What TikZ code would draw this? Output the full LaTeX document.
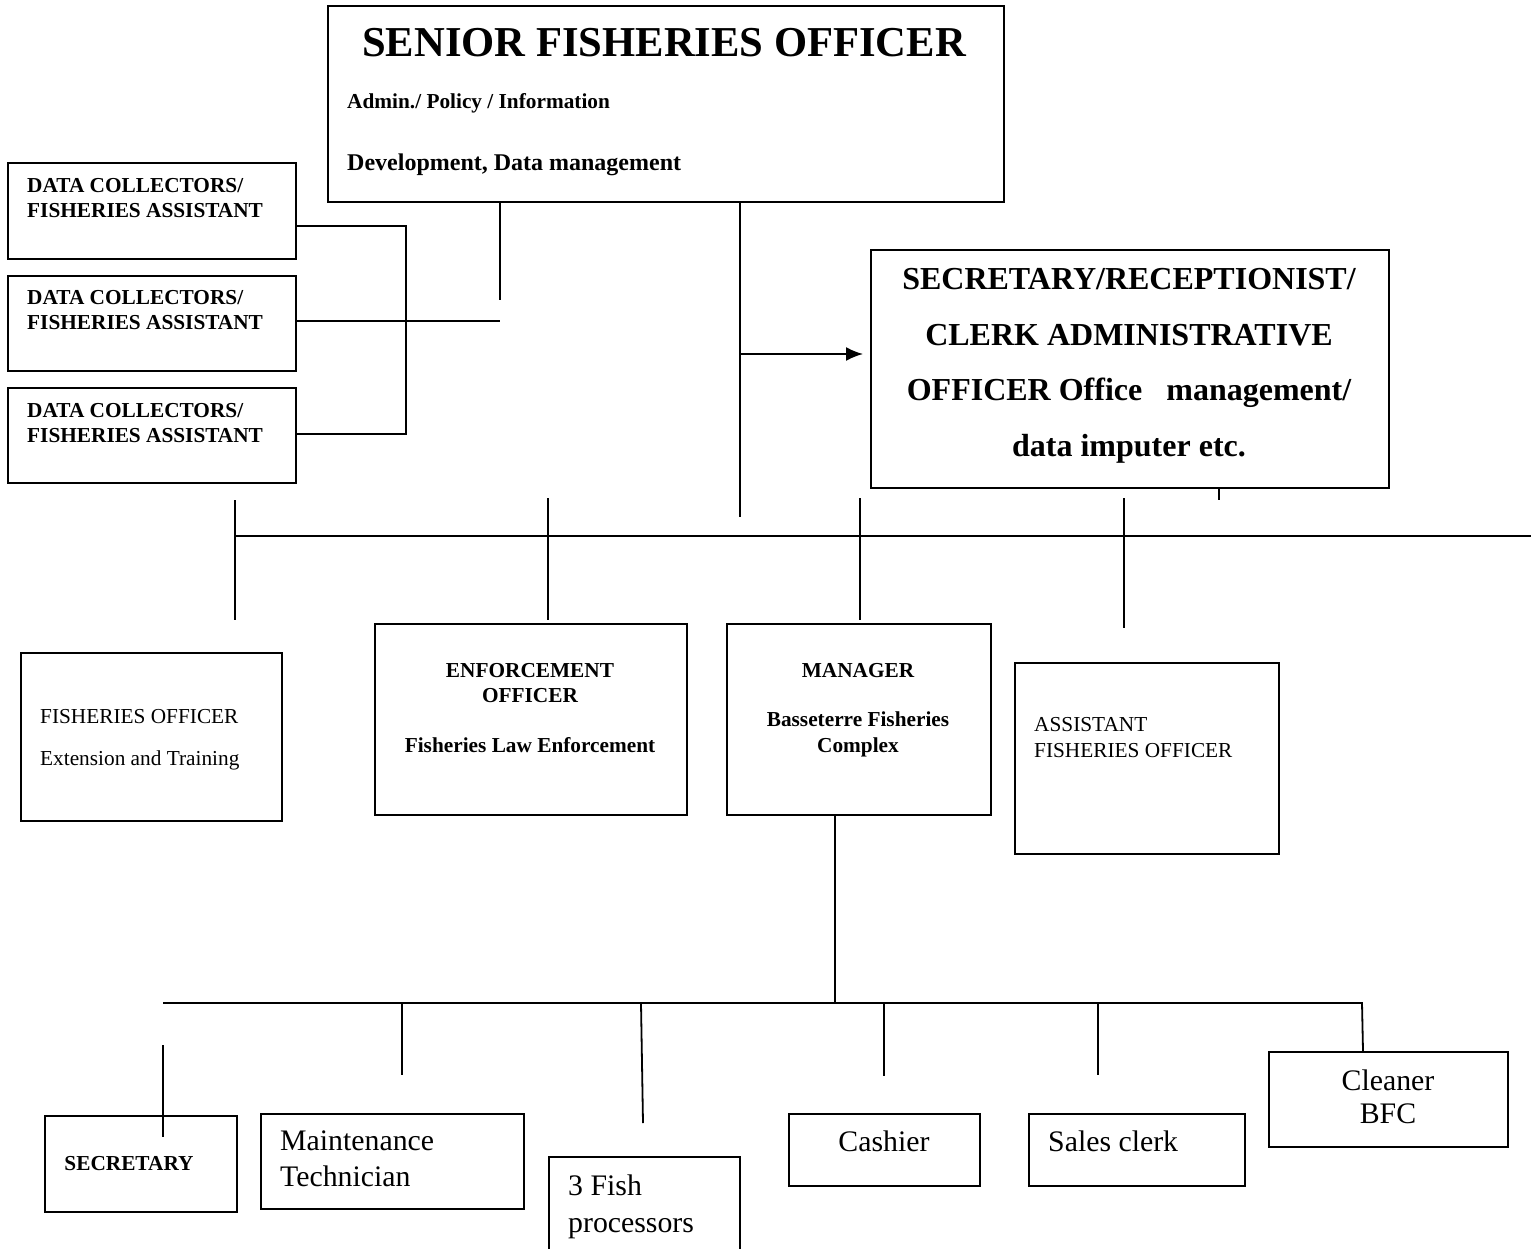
\documentclass[tikz,border=0pt]{standalone}
\usepackage{fontspec}
\setmainfont{Liberation Serif}
\usetikzlibrary{arrows.meta}
\newcommand\fsTen{\fontsize{21.3}{25}\selectfont}
\newcommand\fsDev{\fontsize{24}{28}\selectfont}
\newcommand\fsBig{\fontsize{29.8}{34}\selectfont}
\newcommand\fsSec{\fontsize{32}{36}\selectfont}
\newcommand\fsTitle{\fontsize{42.6}{48}\selectfont}
\begin{document}
\begin{tikzpicture}[x=1pt,y=-1pt,
  box/.style={draw, line width=2pt, inner sep=0pt, anchor=north west},
  lt/.style={inner sep=0pt, anchor=base west},
  ct/.style={inner sep=0pt, anchor=base},
  ln/.style={line width=1.8pt}]
\useasboundingbox (0,0) rectangle (1534,1249);
% boxes
\node[box, minimum width=676pt, minimum height=196pt] (sfo) at (327,5) {};
\node[box, minimum width=288pt, minimum height=96pt] (dc1) at (7,162) {};
\node[box, minimum width=288pt, minimum height=95pt] (dc2) at (7,275) {};
\node[box, minimum width=288pt, minimum height=95pt] (dc3) at (7,387) {};
\node[box, minimum width=518pt, minimum height=238pt] (sec) at (870,249) {};
\node[box, minimum width=261pt, minimum height=168pt] (fo) at (20,652) {};
\node[box, minimum width=312pt, minimum height=191pt] (enf) at (374,623) {};
\node[box, minimum width=264pt, minimum height=191pt] (mgr) at (726,623) {};
\node[box, minimum width=264pt, minimum height=191pt] (afo) at (1014,662) {};
\node[box, minimum width=192pt, minimum height=96pt] (bsec) at (44,1115) {};
\node[box, minimum width=263pt, minimum height=95pt] (mt) at (260,1113) {};
\node[box, minimum width=191pt, minimum height=112pt] (fp) at (548,1156) {};
\node[box, minimum width=191pt, minimum height=72pt] (cash) at (788,1113) {};
\node[box, minimum width=216pt, minimum height=72pt] (sales) at (1028,1113) {};
\node[box, minimum width=239pt, minimum height=95pt] (clean) at (1268,1051) {};
% texts
\node[ct] (t1) at (664,57) {\fsTitle\bfseries SENIOR FISHERIES OFFICER};
\node[lt] (t2) at (347,109) {\fsTen\bfseries Admin./ Policy / Information};
\node[lt] (t3) at (347,171) {\fsDev\bfseries Development, Data management};
\node[lt] (d1a) at (27,193) {\fsTen\bfseries DATA COLLECTORS/};
\node[lt] (d1b) at (27,218) {\fsTen\bfseries FISHERIES ASSISTANT};
\node[lt] (d2a) at (27,305) {\fsTen\bfseries DATA COLLECTORS/};
\node[lt] (d2b) at (27,330) {\fsTen\bfseries FISHERIES ASSISTANT};
\node[lt] (d3a) at (27,417) {\fsTen\bfseries DATA COLLECTORS/};
\node[lt] (d3b) at (27,442) {\fsTen\bfseries FISHERIES ASSISTANT};
\node[ct] (s1) at (1129,290) {\fsSec\bfseries SECRETARY/RECEPTIONIST/};
\node[ct] (s2) at (1129,345) {\fsSec\bfseries CLERK ADMINISTRATIVE};
\node[ct] (s3) at (1129,400) {\fsSec\bfseries OFFICER Office\ \ \ management/};
\node[ct] (s4) at (1129,456) {\fsSec\bfseries data imputer etc.};
\node[lt] (f1) at (40,723) {\fsTen FISHERIES OFFICER};
\node[lt] (f2) at (40,765) {\fsTen Extension and Training};
\node[ct] (e1) at (530,677) {\fsTen\bfseries ENFORCEMENT};
\node[ct] (e2) at (530,702) {\fsTen\bfseries OFFICER};
\node[ct] (e3) at (530,752) {\fsTen\bfseries Fisheries Law Enforcement};
\node[ct] (m1) at (858,677) {\fsTen\bfseries MANAGER};
\node[ct] (m2) at (858,726) {\fsTen\bfseries Basseterre Fisheries};
\node[ct] (m3) at (858,752) {\fsTen\bfseries Complex};
\node[lt] (a1) at (1034,731) {\fsTen ASSISTANT};
\node[lt] (a2) at (1034,757) {\fsTen FISHERIES OFFICER};
\node[ct] (b1t) at (129,1170) {\fsTen\bfseries SECRETARY};
\node[lt] (mt1) at (280,1150) {\fsBig Maintenance};
\node[lt] (mt2) at (280,1186) {\fsBig Technician};
\node[lt] (fp1) at (568,1195) {\fsBig 3 Fish};
\node[lt] (fp2) at (568,1232) {\fsBig processors};
\node[ct] (ca1) at (884,1151) {\fsBig Cashier};
\node[lt] (sa1) at (1048,1151) {\fsBig Sales clerk};
\node[ct] (cl1) at (1388,1090) {\fsBig Cleaner};
\node[ct] (cl2) at (1388,1123) {\fsBig BFC};
% free-end coordinates
\coordinate (c1) at (500,300);
\coordinate (c2) at (740,517);
\coordinate (br1) at (406,226);
\coordinate (br2) at (406,434);
\coordinate (ar) at (740,354);
\coordinate (tk) at (1219,500);
\coordinate (h1) at (234,536);
\coordinate (h2) at (1531,536);
\coordinate (v1a) at (235,500); \coordinate (v1b) at (235,620);
\coordinate (v2a) at (548,498); \coordinate (v2b) at (548,620);
\coordinate (v3a) at (860,498); \coordinate (v3b) at (860,620);
\coordinate (v4a) at (1124,498); \coordinate (v4b) at (1124,628);
\coordinate (md) at (835,1003);
\coordinate (g1) at (163,1003);
\coordinate (g2) at (1363,1003);
\coordinate (w1a) at (163,1045); \coordinate (w1b) at (163,1137);
\coordinate (w2a) at (402,1003); \coordinate (w2b) at (402,1075);
\coordinate (w3a) at (641,1003); \coordinate (w3b) at (643,1123);
\coordinate (w4a) at (884,1003); \coordinate (w4b) at (884,1076);
\coordinate (w5a) at (1098,1003); \coordinate (w5b) at (1098,1075);
\coordinate (w6a) at (1362,1003);
% connectors
\draw[ln] (sfo.south -| c1) -- (c1);
\draw[ln] (sfo.south -| c2) -- (c2);
\draw[ln] (dc2.east |- 0,321) -- (c1 |- 0,321);
\draw[ln] (dc1.east |- br1) -- (br1) -- (br2) -- (dc3.east |- br2);
\draw[ln, -{Latex[length=17pt,width=14pt]}, shorten >=7pt] (ar) -- (sec.west |- ar);
\draw[ln] (sec.south -| tk) -- (tk);
\draw[ln] (h1) -- (h2);
\draw[ln] (v1a) -- (v1b);
\draw[ln] (v2a) -- (v2b);
\draw[ln] (v3a) -- (v3b);
\draw[ln] (v4a) -- (v4b);
\draw[ln] (mgr.south -| md) -- (md);
\draw[ln] (g1) -- (g2);
\draw[ln] (w1a) -- (w1b);
\draw[ln] (w2a) -- (w2b);
\draw[ln] (w3a) -- (w3b);
\draw[ln] (w4a) -- (w4b);
\draw[ln] (w5a) -- (w5b);
\draw[ln] (w6a) -- (clean.north -| 1363,0);
\end{tikzpicture}
\end{document}
